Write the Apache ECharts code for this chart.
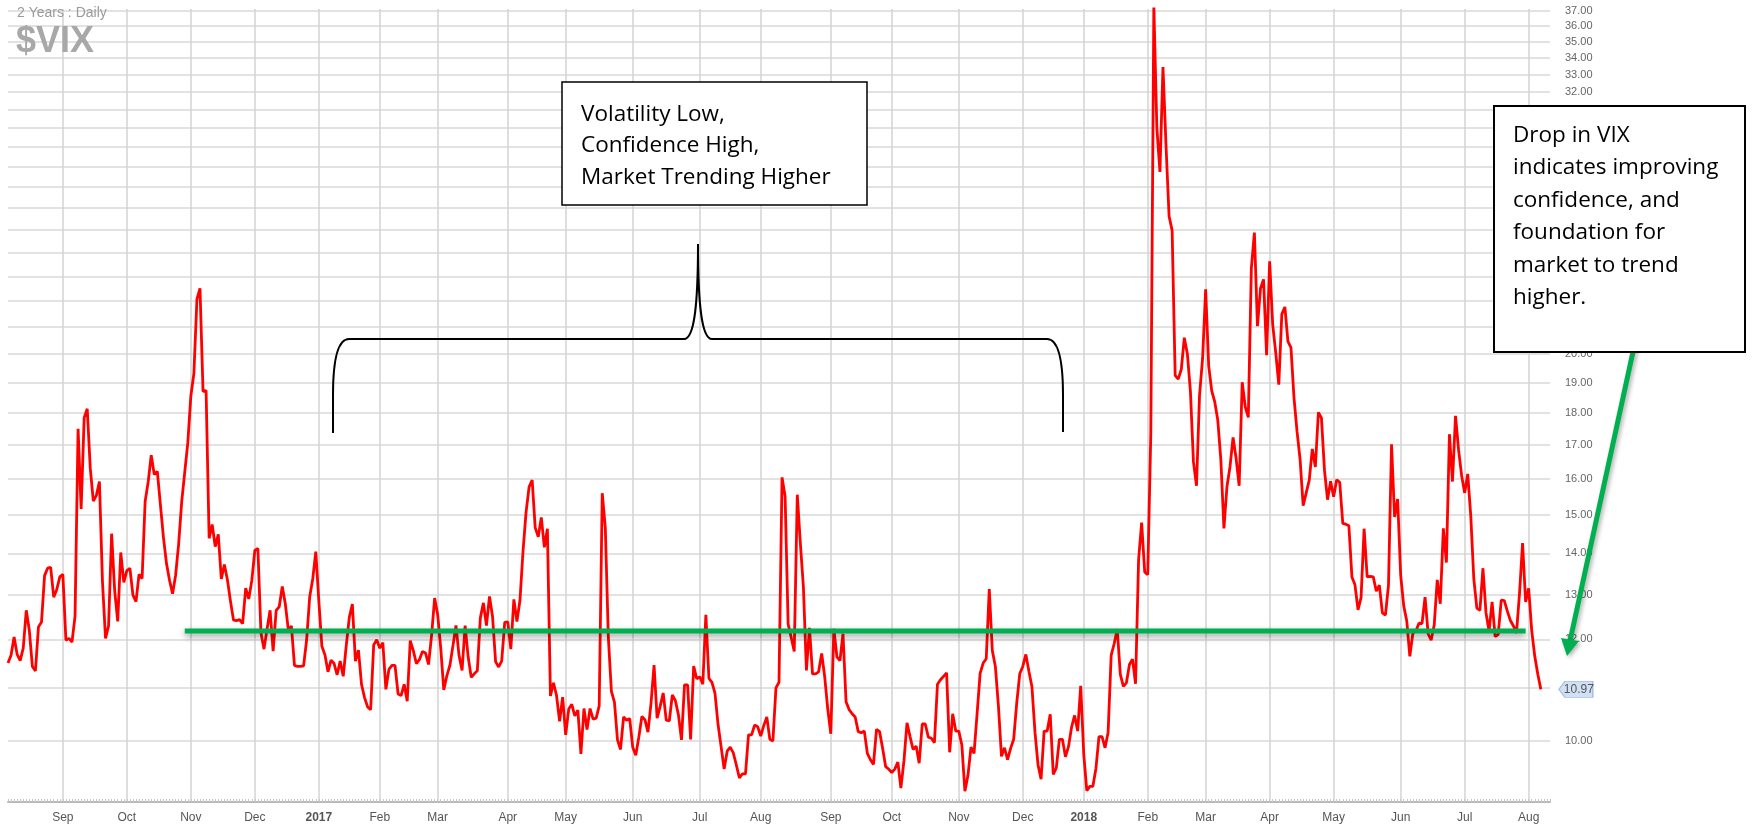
<!DOCTYPE html>
<html><head><meta charset="utf-8">
<script src="https://cdn.jsdelivr.net/npm/echarts@6/dist/echarts.min.js"></script>
<style>html,body{margin:0;padding:0;background:#fff}#c{width:1752px;height:829px}</style>
</head><body><div id="c"></div>
<script>
// ---------- DATA ----------
const START_DATE = '2016-08-08';
const END_DATE = '2018-08-10';   // axis runs a few sessions past the last close
const HOLIDAYS = ['2016-09-05','2016-11-24','2016-12-26','2017-01-02','2017-01-16','2017-02-20',
  '2017-04-14','2017-05-29','2017-07-04','2017-09-04','2017-11-23','2017-12-25','2018-01-01',
  '2018-01-15','2018-02-19','2018-03-30','2018-05-28','2018-07-04'];
const MONTH_NAMES = ['Jan','Feb','Mar','Apr','May','Jun','Jul','Aug','Sep','Oct','Nov','Dec'];

const vix_2016_08 = [11.50,11.66,12.05,11.68,11.55,11.81,12.64,12.19,11.43,11.34,12.27,12.38,13.45,13.63,13.65,12.94,13.12,13.42];
const vix_2016_09 = [13.48,11.98,12.02,11.94,12.51,17.50,15.16,17.85,18.14,16.30,15.37,15.53,15.92,13.30,12.02,12.29,14.50,13.10,12.39,14.02,13.29];
const vix_2016_10 = [13.57,13.63,12.99,12.84,13.48,13.38,15.36,15.91,16.69,16.12,16.21,15.28,14.41,13.75,13.34,13.02,13.46,14.24,15.36,16.19,17.06];
const vix_2016_11 = [18.56,19.32,22.08,22.51,18.71,18.74,14.38,14.74,14.17,14.48,13.37,13.72,13.35,12.85,12.42,12.41,12.43,12.34,13.15,12.90,13.33];
const vix_2016_12 = [14.07,14.12,12.14,11.79,12.22,12.64,11.75,12.64,12.72,13.19,12.79,12.20,12.29,11.45,11.43,11.43,11.44,11.99,12.95,13.37,14.04];
const vix_2017_01 = [12.85,11.85,11.67,11.32,11.56,11.49,11.26,11.54,11.23,11.87,12.48,12.78,11.54,11.77,11.07,10.81,10.63,10.58,11.88,11.99];
const vix_2017_02 = [11.81,11.93,10.97,11.37,11.45,11.45,10.88,10.85,11.07,10.74,11.97,11.76,11.49,11.57,11.74,11.71,11.47,12.09,12.92];
const vix_2017_03 = [12.54,11.81,10.96,11.24,11.45,11.86,12.30,11.66,11.35,12.30,11.63,11.21,11.28,11.34,12.47,12.81,12.30,12.96,12.50,11.53,11.42,11.54,12.37];
const vix_2017_04 = [12.38,11.79,12.89,12.39,12.87,14.05,15.07,15.77,15.96,14.66,14.42,14.93,14.15,14.63,10.84,11.10,10.85,10.36,10.82];
const vix_2017_05 = [10.11,10.59,10.68,10.46,10.57,9.77,10.60,10.21,10.60,10.40,10.42,10.65,15.59,14.66,12.04,10.93,10.72,10.02,9.85,10.44,10.38,10.41];
const vix_2017_06 = [9.89,9.75,10.07,10.45,10.39,10.16,10.70,11.46,10.42,10.64,10.90,10.38,10.37,10.86,10.75,10.48,10.02,11.06,11.06,10.03,11.44,11.18];
const vix_2017_07 = [11.22,11.07,12.54,11.19,11.11,10.89,10.30,9.90,9.51,9.82,9.89,9.79,9.58,9.36,9.43,9.43,10.11,10.11,10.29,10.26];
const vix_2017_08 = [10.09,10.28,10.44,10.03,10.00,11.00,11.11,16.04,15.51,12.33,12.04,11.74,15.55,14.26,13.19,11.35,12.25,11.28,11.28,11.32,11.70,11.22,10.59];
const vix_2017_09 = [10.13,12.23,11.63,11.55,12.12,10.73,10.58,10.50,10.44,10.17,10.15,10.18,9.78,9.67,9.59,10.21,10.17,9.87,9.55,9.51];
const vix_2017_10 = [9.45,9.51,9.63,9.19,9.65,10.33,10.08,9.85,9.91,9.61,10.31,10.31,10.07,10.05,9.97,11.07,11.16,11.23,11.30,9.80,10.50,10.18];
const vix_2017_11 = [10.18,9.93,9.14,9.40,9.89,9.78,10.50,11.29,11.50,11.59,13.13,11.76,11.43,10.65,9.73,9.88,9.67,9.87,10.03,10.70,11.28];
const vix_2017_12 = [11.43,11.68,11.33,11.02,10.16,9.58,9.34,10.18,10.18,10.49,9.42,9.53,10.03,10.03,9.72,9.90,10.25,10.47,10.18,11.04];
const vix_2018_01 = [9.77,9.15,9.22,9.22,9.52,10.08,10.08,9.88,10.16,11.66,11.91,12.22,11.27,11.03,11.10,11.47,11.58,11.08,13.84,14.79,13.54];
const vix_2018_02 = [13.47,17.31,37.32,29.98,27.73,33.46,29.06,25.61,24.97,19.26,19.13,19.46,20.60,20.02,18.72,16.49,15.80,18.59,19.85];
const vix_2018_03 = [22.47,19.59,18.73,18.36,17.76,16.54,14.64,15.78,16.35,17.23,16.59,15.80,19.02,18.20,17.86,23.34,24.87,21.03,22.50,22.87,19.97];
const vix_2018_04 = [23.62,21.10,20.06,18.94,21.49,21.77,20.47,20.24,18.49,17.41,16.56,15.25,15.60,15.96,16.88,16.34,18.02,17.84,16.24,15.41,15.93];
const vix_2018_05 = [15.49,15.97,15.90,14.77,14.75,14.71,13.42,13.23,12.65,12.93,14.63,13.42,13.43,13.42,13.08,13.22,12.58,12.53,13.22,17.02,14.94,15.43];
const vix_2018_06 = [13.46,12.74,12.40,11.64,12.13,12.18,12.35,12.34,12.94,12.12,11.98,12.31,13.35,12.79,14.64,13.77,17.33,15.92,17.91,16.85,16.09];
const vix_2018_07 = [15.60,16.14,14.97,13.37,12.69,12.64,13.63,12.58,12.18,12.83,12.06,12.10,12.87,12.86,12.62,12.41,12.29,12.14,13.03,14.26,12.83];
const vix_2018_08 = [13.15,12.19,11.64,11.27,10.97];

const Y_GRID_VALUES = [10,11,12,13,14,15,16,17,18,19,20,21,22,23,24,25,26,27,28,29,30,31,32,33,34,35,36,37];
const Y_LABEL_VALUES = [10,12,13,14,15,16,17,18,19,20,21,22,23,24,25,26,27,28,29,30,31,32,33,34,35,36,37];
const Y_MIN = 8.965, Y_MAX = 37.13;

const SUPPORT = { start: '2016-10-28', end: '2018-07-31', level: 12.18 };

// ---------- BUILD ----------
function tradingDays(start, end, holidays) {
  const out = [];
  const d = new Date(start + 'T00:00:00Z'), e = new Date(end + 'T00:00:00Z');
  while (d <= e) {
    const w = d.getUTCDay(), s = d.toISOString().slice(0, 10);
    if (w !== 0 && w !== 6 && holidays.indexOf(s) < 0) out.push(s);
    d.setUTCDate(d.getUTCDate() + 1);
  }
  return out;
}
const DATES = tradingDays(START_DATE, END_DATE, HOLIDAYS);
const VIX = [].concat(vix_2016_08, vix_2016_09, vix_2016_10, vix_2016_11, vix_2016_12,
  vix_2017_01, vix_2017_02, vix_2017_03, vix_2017_04, vix_2017_05, vix_2017_06,
  vix_2017_07, vix_2017_08, vix_2017_09, vix_2017_10, vix_2017_11, vix_2017_12,
  vix_2018_01, vix_2018_02, vix_2018_03, vix_2018_04, vix_2018_05, vix_2018_06,
  vix_2018_07, vix_2018_08);
const lastIdx = VIX.length - 1;

const isMonthStart = (i) => i > 0 && DATES[i].slice(0, 7) !== DATES[i - 1].slice(0, 7);

const chart = echarts.init(document.getElementById('c'), null, { renderer: 'canvas' });
const FONT = 'Liberation Sans';
const BOXFONT = '"Open Sans", "Noto Sans", sans-serif';

const braceStyle = { stroke: '#000', lineWidth: 2, fill: null };
const brace = [
  { type: 'line', shape: { x1: 333, y1: 433, x2: 333, y2: 395 } },
  { type: 'bezierCurve', shape: { x1: 333, y1: 395, cpx1: 333, cpy1: 339, x2: 349, y2: 339 } },
  { type: 'line', shape: { x1: 349, y1: 339, x2: 684, y2: 339 } },
  { type: 'bezierCurve', shape: { x1: 684, y1: 339, cpx1: 695, cpy1: 339, cpx2: 698, cpy2: 300, x2: 698, y2: 244 } },
  { type: 'bezierCurve', shape: { x1: 698, y1: 244, cpx1: 698, cpy1: 300, cpx2: 701, cpy2: 339, x2: 712, y2: 339 } },
  { type: 'line', shape: { x1: 712, y1: 339, x2: 1047, y2: 339 } },
  { type: 'bezierCurve', shape: { x1: 1047, y1: 339, cpx1: 1063, cpy1: 339, x2: 1063, y2: 395 } },
  { type: 'line', shape: { x1: 1063, y1: 395, x2: 1063, y2: 432 } }
].map(e => Object.assign(e, { z: 50, silent: true, style: braceStyle }));

chart.setOption({
  animation: false,
  backgroundColor: '#ffffff',
  title: [
    { text: '2 Years : Daily', left: 12, top: 1, textStyle: { color: '#9a9a9a', fontSize: 14, fontWeight: 'normal', fontFamily: FONT } },
    { text: '$VIX', left: 11, top: 19, textStyle: { color: '#a8a8a8', fontSize: 36, fontWeight: 'bold', fontFamily: FONT } }
  ],
  grid: { left: 8, right: 202, top: 9, bottom: 27, containLabel: false },
  xAxis: {
    type: 'category', data: DATES, boundaryGap: false,
    axisLine: { show: true, lineStyle: { color: '#b8b8b8', width: 2 } },
    axisTick: { show: true, interval: 0, inside: true, length: 3, lineStyle: { color: '#c8c8c8', width: 1 } },
    axisLabel: {
      interval: (i) => isMonthStart(i), margin: 10,
      color: '#555', fontSize: 12, fontFamily: FONT,
      formatter: (v) => { const m = +v.slice(5, 7); return m === 1 ? '{y|' + v.slice(0, 4) + '}' : MONTH_NAMES[m - 1]; },
      rich: { y: { fontWeight: 'bold', color: '#555', fontSize: 12, fontFamily: FONT } }
    },
    splitLine: { show: true, interval: (i) => isMonthStart(i), lineStyle: { color: '#d3d3d3', width: 1.5 } }
  },
  yAxis: {
    type: 'log', logBase: 10, position: 'right', min: Y_MIN, max: Y_MAX,
    axisLine: { show: false },
    axisTick: { show: false, customValues: Y_GRID_VALUES },
    axisLabel: { customValues: Y_LABEL_VALUES, formatter: (v) => Number(v).toFixed(2), color: '#666', fontSize: 11, fontFamily: FONT, margin: 15 },
    splitLine: { show: true, lineStyle: { color: '#d9d9d9', width: 1.5 } }
  },
  series: [
    {
      name: 'VIX', type: 'line', data: VIX, symbol: 'none', z: 3,
      lineStyle: { color: '#ff0000', width: 2.8 }
    },
    {
      name: 'support', type: 'line', symbol: 'none', z: 4,
      data: [[SUPPORT.start, SUPPORT.level], [SUPPORT.end, SUPPORT.level]],
      lineStyle: { color: '#00b050', width: 5, shadowColor: 'rgba(0,0,0,0.4)', shadowBlur: 6, shadowOffsetY: 3 }
    },
    {
      name: 'last', type: 'scatter', clip: false, z: 5, silent: true,
      data: [[DATES[lastIdx], VIX[lastIdx]]],
      symbol: 'path://M0,8 L6,0 L34,0 L34,16 L6,16 Z', symbolSize: [34, 16], symbolKeepAspect: false,
      symbolOffset: [35, 0],
      itemStyle: { color: '#c6d9f0', borderColor: '#8eb4e3', borderWidth: 1 },
      label: { show: true, position: 'inside', offset: [3, 0], formatter: (p) => p.value[1].toFixed(2), color: '#333', fontSize: 12, fontFamily: FONT }
    }
  ],
  graphic: brace.concat([
    { type: 'rect', z: 60, shape: { x: 562, y: 82, width: 305, height: 123 }, style: { fill: '#fff', stroke: '#000', lineWidth: 1.5 } },
    { type: 'text', z: 61, x: 581, y: 99, style: { text: 'Volatility Low,\nConfidence High,\nMarket Trending Higher', font: '22.5px ' + BOXFONT, fill: '#000', lineHeight: 31.3, verticalAlign: 'top' } },
    { type: 'line', z: 55, shape: { x1: 1636, y1: 338, x2: 1570, y2: 641 }, style: { stroke: '#00b050', lineWidth: 5, shadowColor: 'rgba(0,0,0,0.3)', shadowBlur: 4, shadowOffsetX: 2, shadowOffsetY: 2 } },
    { type: 'polygon', z: 56, shape: { points: [[1567, 656], [1561, 638], [1579, 641]] }, style: { fill: '#00b050', shadowColor: 'rgba(0,0,0,0.3)', shadowBlur: 4, shadowOffsetX: 2, shadowOffsetY: 2 } },
    { type: 'rect', z: 60, shape: { x: 1494, y: 106, width: 251, height: 246 }, style: { fill: '#fff', stroke: '#000', lineWidth: 2 } },
    { type: 'text', z: 61, x: 1513, y: 119, style: { text: 'Drop in VIX\nindicates improving\nconfidence, and\nfoundation for\nmarket to trend\nhigher.', font: '22.5px ' + BOXFONT, fill: '#000', lineHeight: 32.5, verticalAlign: 'top' } }
  ])
});
</script>
</body></html>
